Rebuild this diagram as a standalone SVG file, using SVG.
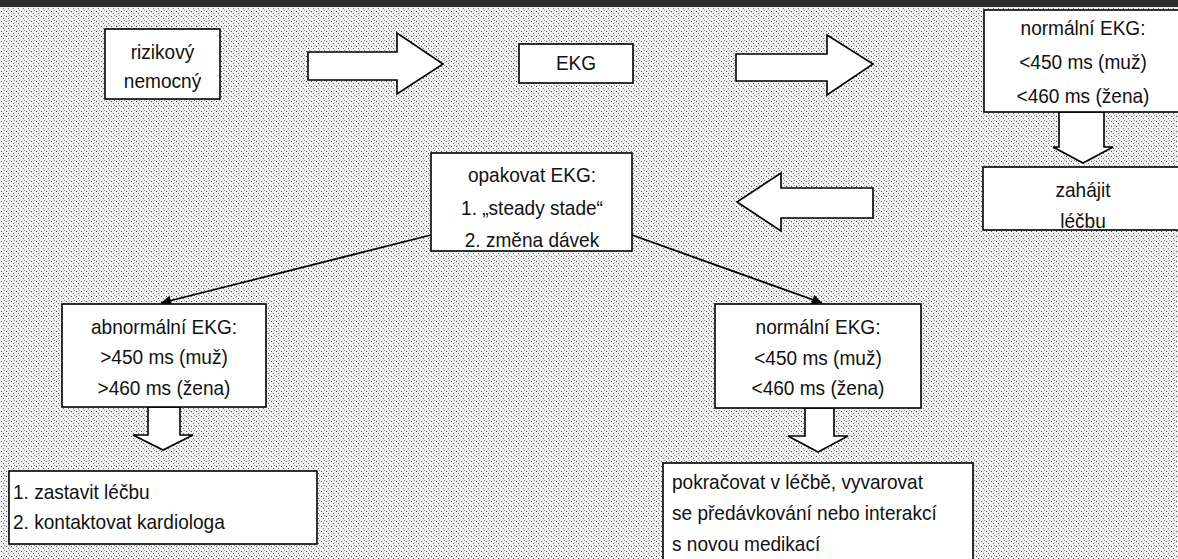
<svg xmlns="http://www.w3.org/2000/svg" width="1178" height="559" viewBox="0 0 1178 559">
  <defs>
    <pattern id="halftone" width="5" height="5" patternUnits="userSpaceOnUse">
      <rect width="5" height="5" fill="#f0f0f0"/>
      <rect x="1" y="1" width="1" height="1" fill="#444"/>
      <rect x="3" y="3" width="1" height="1" fill="#666"/>
      <rect x="4" y="0" width="1" height="1" fill="#999"/>
    </pattern>
    <marker id="ah" viewBox="0 0 10 10" refX="10" refY="5" markerWidth="14" markerHeight="10" markerUnits="userSpaceOnUse" orient="auto">
      <path d="M0,0 L10,5 L0,10 z" fill="#000"/>
    </marker>
    <style>
      .box { fill: #fff; stroke: #000; stroke-width: 1.6; }
      .fat { fill: #fff; stroke: #000; stroke-width: 1.6; stroke-linejoin: miter; }
      .t { font-family: "Liberation Sans", Arial, sans-serif; font-size: 20.5px; fill: #111; }
      .c { text-anchor: middle; }
      .conn { stroke: #000; stroke-width: 1.8; fill: none; }
    </style>
  </defs>

  <rect x="0" y="0" width="1178" height="559" fill="url(#halftone)"/>
  <rect x="0" y="0" width="1178" height="7" fill="#2e2e2e"/>

  <g id="connectors">
    <polygon class="fat" points="308,52 397,52 397,33 443,64 397,94 397,80 308,80"/>
    <polygon class="fat" points="736,54 827,54 827,35 873,64 827,95 827,81 736,81"/>
    <polygon class="fat" points="873,188 781,188 781,173 737,202 781,231 781,218 873,218"/>
    <polygon class="fat" points="1059,112 1104,112 1104,147 1113,147 1083,163 1053,147 1059,147"/>
    <polygon class="fat" points="148,407 180,407 180,435 193,435 163,450 133,435 148,435"/>
    <polygon class="fat" points="805,408 834,408 834,436 848,436 818,452 788,436 805,436"/>
    <line class="conn" x1="431" y1="235" x2="161" y2="303" marker-end="url(#ah)"/>
    <line class="conn" x1="632" y1="235" x2="822" y2="303" marker-end="url(#ah)"/>
  </g>

  <g id="rizikovy">
    <rect class="box" x="105" y="29" width="115" height="70"/>
    <text class="t c" transform="translate(162.5,59) scale(0.93,1)">rizikový</text>
    <text class="t c" transform="translate(162.5,88) scale(0.93,1)">nemocný</text>
  </g>

  <g id="ekg">
    <rect class="box" x="519" y="44" width="114" height="39"/>
    <text class="t c" transform="translate(576,70) scale(0.93,1)">EKG</text>
  </g>

  <g id="normalni-top">
    <rect class="box" x="984" y="10" width="200" height="102"/>
    <text class="t c" transform="translate(1083,35) scale(0.93,1)">normální EKG:</text>
    <text class="t c" transform="translate(1083,69) scale(0.93,1)">&lt;450 ms (muž)</text>
    <text class="t c" transform="translate(1083,103) scale(0.93,1)">&lt;460 ms (žena)</text>
  </g>

  <g id="zahajit">
    <rect class="box" x="983" y="167" width="200" height="63"/>
    <text class="t c" transform="translate(1083,197) scale(0.93,1)">zahájit</text>
    <text class="t c" transform="translate(1083,228) scale(0.93,1)">léčbu</text>
  </g>

  <g id="opakovat">
    <rect class="box" x="431" y="153" width="201" height="98"/>
    <text class="t c" transform="translate(532,182) scale(0.93,1)">opakovat EKG:</text>
    <text class="t c" transform="translate(532,215) scale(0.93,1)">1. „steady stade“</text>
    <text class="t c" transform="translate(532,247) scale(0.93,1)">2. změna dávek</text>
  </g>

  <g id="abnormalni">
    <rect class="box" x="62" y="304" width="204" height="103"/>
    <text class="t c" transform="translate(164,334) scale(0.93,1)">abnormální EKG:</text>
    <text class="t c" transform="translate(164,364) scale(0.93,1)">&gt;450 ms (muž)</text>
    <text class="t c" transform="translate(164,395) scale(0.93,1)">&gt;460 ms (žena)</text>
  </g>

  <g id="normalni-bottom">
    <rect class="box" x="715" y="304" width="206" height="104"/>
    <text class="t c" transform="translate(818,334) scale(0.93,1)">normální EKG:</text>
    <text class="t c" transform="translate(818,365) scale(0.93,1)">&lt;450 ms (muž)</text>
    <text class="t c" transform="translate(818,395) scale(0.93,1)">&lt;460 ms (žena)</text>
  </g>

  <g id="zastavit">
    <rect class="box" x="9" y="471" width="308" height="73"/>
    <text class="t" transform="translate(13,499) scale(0.93,1)">1. zastavit léčbu</text>
    <text class="t" transform="translate(13,529) scale(0.93,1)">2. kontaktovat kardiologa</text>
  </g>

  <g id="pokracovat">
    <rect class="box" x="663" y="463" width="310" height="110"/>
    <text class="t" transform="translate(672,489) scale(0.93,1)">pokračovat v léčbě, vyvarovat</text>
    <text class="t" transform="translate(672,520) scale(0.93,1)">se předávkování nebo interakcí</text>
    <text class="t" transform="translate(672,551) scale(0.93,1)">s novou medikací</text>
  </g>
</svg>
